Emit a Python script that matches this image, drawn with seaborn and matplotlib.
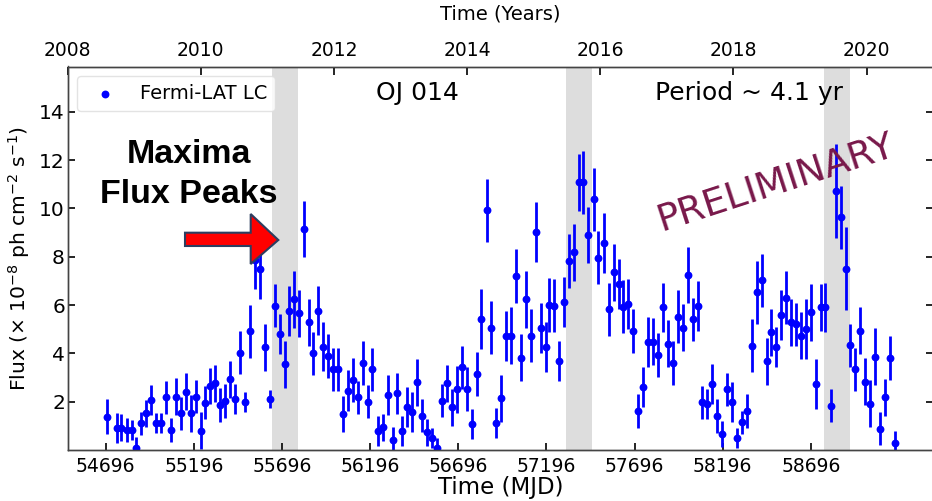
import numpy as np
import pandas as pd
import matplotlib
matplotlib.use("Agg")
import matplotlib.pyplot as plt
from matplotlib.patches import Polygon
import seaborn as sns

# ---------------- data ----------------
mjd = [54702, 54759, 54785, 54815, 54842, 54869, 54897, 54925, 54952, 54980,
       55009, 55037, 55066, 55094, 55122, 55151, 55178, 55206, 55234, 55261,
       55289, 55318, 55346, 55373, 55401, 55430, 55458, 55487, 55515, 55544,
       55570, 55599, 55627, 55654, 55682, 55710, 55737, 55765, 55794, 55822,
       55849, 55874, 55902, 55931, 55959, 55986, 56014, 56042, 56071, 56099,
       56126, 56154, 56183, 56209, 56238, 56266, 56295, 56323, 56350, 56378,
       56406, 56435, 56461, 56490, 56518, 56547, 56575, 56604, 56632, 56661,
       56687, 56716, 56744, 56772, 56801, 56827, 56856, 56884, 56911, 56939,
       56968, 56994, 57023, 57051, 57080, 57106, 57135, 57163, 57191, 57211,
       57239, 57268, 57296, 57322, 57351, 57378, 57406, 57434, 57463, 57491,
       57520, 57548, 57577, 57605, 57632, 57660, 57688, 57717, 57745, 57772,
       57800, 57829, 57857, 57884, 57912, 57941, 57968, 57997, 58025, 58054,
       58080, 58109, 58135, 58164, 58192, 58219, 58248, 58276, 58305, 58333,
       58360, 58388, 58417, 58445, 58472, 58500, 58529, 58557, 58582, 58611,
       58639, 58668, 58696, 58724, 58751, 58779, 58808, 58836, 58865, 58893,
       58920, 58948, 58975, 59003, 59031, 59060, 59086, 59115, 59143, 59172]
flux = [1.38, 0.90, 0.92, 0.83, 0.83, 0.07, 1.10, 1.52, 2.07, 1.13,
        1.13, 2.18, 0.83, 2.21, 1.52, 2.41, 1.52, 2.21, 0.80, 1.96,
        2.65, 2.76, 1.86, 2.03, 2.92, 2.10, 4.03, 2.00, 4.92, 7.85,
        7.49, 4.25, 2.11, 5.97, 4.80, 3.54, 5.75, 6.23, 5.66, 9.14,
        5.28, 4.00, 5.77, 4.28, 3.89, 3.34, 3.34, 1.49, 2.46, 2.90,
        2.18, 3.61, 2.00, 3.34, 0.80, 0.94, 2.28, 0.41, 2.34, 0.80,
        1.77, 1.56, 2.81, 1.42, 0.73, 0.48, 0.07, 2.04, 2.76, 1.77,
        2.52, 3.42, 2.52, 1.08, 3.14, 5.42, 9.92, 5.06, 1.10, 2.14,
        4.73, 4.73, 7.20, 3.82, 6.23, 4.73, 9.02, 5.06, 4.25, 6.00,
        5.97, 3.68, 6.11, 7.82, 8.18, 11.08, 11.08, 8.90, 10.37, 7.96,
        8.55, 5.82, 7.35, 6.87, 5.93, 6.03, 4.92, 1.61, 2.62, 4.48,
        4.48, 3.93, 5.90, 4.39, 3.59, 5.52, 5.06, 7.24, 5.41, 5.97,
        1.97, 1.89, 2.72, 1.41, 0.66, 2.51, 2.00, 0.51, 1.14, 1.61,
        4.32, 6.52, 7.03, 3.68, 4.87, 4.28, 5.59, 6.30, 5.28, 5.20,
        4.73, 4.99, 5.70, 2.73, 5.90, 5.90, 1.83, 10.72, 9.63, 7.50,
        4.33, 3.34, 4.94, 2.83, 1.92, 3.86, 0.88, 2.18, 3.81, 0.30]
flux_err = [0.73, 0.62, 0.55, 0.48, 0.41, 0.48, 0.48, 0.55, 0.62, 0.41,
            0.41, 0.69, 0.48, 0.76, 0.69, 0.76, 0.76, 0.69, 0.76, 0.69,
            0.76, 0.76, 0.69, 0.69, 0.76, 0.62, 0.90, 0.41, 1.10, 1.17,
            1.24, 0.97, 0.39, 0.90, 0.83, 0.97, 1.03, 1.17, 0.97, 1.17,
            0.97, 0.90, 1.03, 1.03, 0.90, 0.90, 0.90, 0.76, 0.83, 0.90,
            0.69, 0.90, 0.69, 0.90, 0.62, 0.55, 0.83, 0.55, 0.83, 0.62,
            0.83, 0.83, 0.97, 0.69, 0.55, 0.41, 0.41, 0.69, 0.76, 0.76,
            0.97, 0.90, 0.90, 0.62, 0.90, 1.24, 1.31, 1.10, 0.62, 0.97,
            1.03, 1.17, 1.10, 0.97, 1.17, 1.10, 1.24, 1.03, 1.03, 1.10,
            1.10, 0.83, 1.03, 1.10, 1.17, 1.17, 1.31, 1.17, 1.31, 1.10,
            1.24, 1.10, 1.17, 1.03, 1.10, 1.03, 0.90, 0.69, 0.83, 1.03,
            0.97, 0.90, 1.03, 0.97, 0.90, 1.10, 0.97, 1.17, 0.90, 1.03,
            0.69, 0.62, 0.83, 0.69, 0.55, 0.69, 0.83, 0.41, 0.48, 0.69,
            1.10, 1.31, 1.10, 0.97, 0.97, 0.83, 1.03, 1.10, 0.97, 0.90,
            0.97, 1.24, 1.17, 1.03, 0.97, 1.03, 0.69, 1.93, 1.31, 1.72,
            0.90, 0.90, 0.97, 0.97, 0.97, 1.17, 0.69, 0.76, 0.90, 0.48]

peak_start = [55641, 57305, 58772]
peak_end = [55788, 57453, 58918]

mjd_ticks = [54696, 55196, 55696, 56196, 56696, 57196, 57696, 58196, 58696]
year_ticks = [2008, 2010, 2012, 2014, 2016, 2018, 2020]
flux_ticks = [2, 4, 6, 8, 10, 12, 14]

df = pd.DataFrame({"mjd": mjd, "flux": flux, "err": flux_err})

# ---------------- figure ----------------
W, H = 932, 501
sns.set_style("ticks")
plt.rcParams["font.family"] = ["DejaVu Sans"]
plt.rcParams.update({"text.color": "black", "axes.labelcolor": "black",
                     "xtick.color": "black", "ytick.color": "black"})

fig = plt.figure(figsize=(W / 100, H / 100), dpi=100)
fig.patch.set_facecolor("white")


def fx(px):
    return px / W


def fy(py):
    return 1 - py / H


ax = fig.add_axes([fx(67.7), 51 / H, 865.5 / W, 383.5 / H])

for s, e in zip(peak_start, peak_end):
    ax.axvspan(s, e, color="#dddddd", lw=0, zorder=0)

ax.errorbar(df["mjd"], df["flux"], yerr=df["err"], fmt="none",
            ecolor="#0000ff", elinewidth=2.0, capsize=0, zorder=2)
sns.scatterplot(data=df, x="mjd", y="flux", color="#0000ff", s=32,
                linewidth=0, label="Fermi-LAT LC", ax=ax, zorder=3)

ax.set_xlim(54480, 59390)
ax.set_ylim(0, 15.87)
ax.set_xticks(mjd_ticks)
ax.set_yticks(flux_ticks)
ax.tick_params(axis="both", direction="in", length=5, width=1.2, color="black")
ax.tick_params(axis="y", right=True, labelsize=14.5, pad=2)
ax.tick_params(axis="x", labelsize=13.5, pad=5)
ax.set_xlabel("Time (MJD)", fontsize=16.5, labelpad=0)
ax.set_ylabel(r"Flux ($\times$ 10$^{-8}$ ph cm$^{-2}$ s$^{-1}$)", fontsize=14.6, labelpad=5)
for sp in ax.spines.values():
    sp.set_color("#444444")
    sp.set_linewidth(1.0)

leg = ax.legend(loc="upper left", fontsize=14, frameon=True, markerscale=1.0)
leg.get_frame().set_edgecolor("#dddddd")

# top axis in years
ax2 = ax.twiny()
ax2.set_xlim(2008, 2021)
ax2.set_xticks(year_ticks)
ax2.tick_params(axis="x", direction="in", length=6, width=1.2, labelsize=13.5, pad=5)
ax2.set_xlabel("Time (Years)", fontsize=14, labelpad=15)
for sp in ax2.spines.values():
    sp.set_color("#444444")
    sp.set_linewidth(1.0)

# ---------------- annotations ----------------
fig.text(fx(417), fy(100), "OJ 014", fontsize=18, ha="center", va="baseline")
fig.text(fx(749), fy(100), "Period ~ 4.1 yr", fontsize=18, ha="center", va="baseline")

fig.text(fx(189), fy(163), "Maxima", fontsize=24.5, fontweight="bold",
         family="Liberation Sans", color="black", ha="center", va="baseline")
fig.text(fx(189), fy(203), "Flux Peaks", fontsize=24.5, fontweight="bold",
         family="Liberation Sans", color="black", ha="center", va="baseline")

arrow_px = [(185, 232.7), (250.7, 232.7), (250.7, 214), (278.3, 240),
            (250.7, 264), (250.7, 246), (185, 246)]
arrow = Polygon([(fx(x), fy(y)) for x, y in arrow_px], closed=True,
                transform=fig.transFigure, facecolor="#ff0000",
                edgecolor="#2c3e60", linewidth=1.5, zorder=10)
fig.add_artist(arrow)

fig.text(fx(776), fy(183), "PRELIMINARY", fontsize=27, color="#78184a",
         family="DejaVu Sans", fontweight="normal", rotation=18,
         ha="center", va="center", rotation_mode="anchor")

fig.savefig("out.png", dpi=100, facecolor="white")
